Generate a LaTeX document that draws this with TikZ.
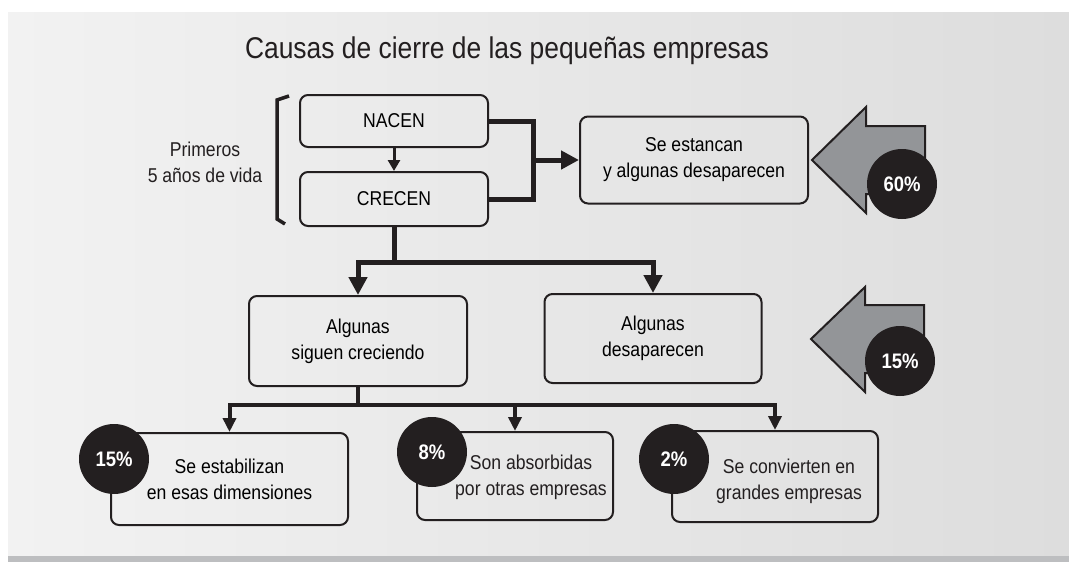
\documentclass[tikz,border=0pt]{standalone}
\usepackage{fontspec}
\setmainfont{Liberation Sans}[FakeStretch=0.88]
\usetikzlibrary{arrows.meta}

\definecolor{negro}{HTML}{231F20}
\definecolor{grisflecha}{HTML}{939598}
\definecolor{fondoA}{HTML}{F2F2F2}
\definecolor{fondoB}{HTML}{DDDDDD}
\definecolor{barra}{HTML}{BDBEC0}

\begin{document}
\begin{tikzpicture}[x=1pt, y=-1pt,
  caja/.style={draw=negro, line width=2pt, rounded corners=8pt, align=center,
               inner sep=0pt, font=\fontsize{20}{26}\selectfont},
  texto/.style={align=center, text=negro, font=\fontsize{20}{26}\selectfont},
  titulo/.style={text=negro, font=\fontsize{30}{36}\selectfont},
  pct/.style={circle, fill=negro, text=white, inner sep=0pt, minimum size=70pt,
              font=\fontsize{21}{21}\selectfont\bfseries},
  grueso/.style={draw=negro, line width=5pt},
  medio/.style={draw=negro, line width=4pt},
  flechaG/.style={-{Triangle[length=18pt,width=18pt]}},
  flechaM/.style={-{Triangle[length=14pt,width=13pt]}},
  gris/.style={fill=grisflecha, draw=negro, line width=2pt, line join=miter}]

\useasboundingbox (0,0) rectangle (1069,562);

%% ---- Fondo ----
\shade[left color=fondoA, right color=fondoB] (8,12) rectangle (1069,556);
\fill[barra] (8,556) rectangle (1069,562);

%% ---- Titulo ----
\node[titulo, anchor=base] (titulo) at (507,58) {Causas de cierre de las pequeñas empresas};

%% ---- Primeros 5 años ----
\node[texto] (primeros) at (205,162) {Primeros\\5 años de vida};
\draw[negro, line width=3.5pt] (289,96) -- (277,100) -- (277,219) -- (285,224);

%% ---- Nacen / crecen ----
\node[caja, minimum width=188pt, minimum height=52pt] (nacen) at (394,121) {NACEN};
\node[caja, minimum width=188pt, minimum height=54pt] (crecen) at (394,199) {CRECEN};
\node[caja, minimum width=228pt, minimum height=87pt] (estancan) at (694,160)
    {Se estancan\\y algunas desaparecen};
\draw[negro, line width=3pt, -{Triangle[length=11pt,width=12pt]}]
    (nacen.south) -- (crecen.north);
\coordinate (jA) at (533,160);
\draw[grueso] (nacen.east) -| (jA) |- (crecen.east);
\draw[grueso, flechaG] (jA) -- (estancan.west);

%% ---- Segundo nivel ----
\node[caja, minimum width=218pt, minimum height=90pt] (siguen) at (358,341)
    {Algunas\\siguen creciendo};
\node[caja, minimum width=217pt, minimum height=89pt] (desaparecen) at (653,338.5)
    {Algunas\\desaparecen};
\coordinate (jB) at (394,262);
\draw[grueso] (crecen.south) -- (jB);
\draw[grueso, flechaG] (jB) -| (siguen.north);
\draw[grueso, flechaG] (jB) -| (desaparecen.north);

%% ---- Flechas grises ----
\draw[gris] (812,160) -- (866,107) -- (866,126) -- (925,126) -- (925,194)
    -- (866,194) -- (866,213) -- cycle;
\draw[gris] (811,339) -- (865,287) -- (865,305) -- (924,305) -- (924,373)
    -- (865,373) -- (865,392) -- cycle;
\node[pct] (p60) at (902,184) {60\%};
\node[pct] (p15a) at (900,361) {15\%};

%% ---- Tercer nivel ----
\node[caja, minimum width=237pt, minimum height=92pt] (estabilizan) at (229.5,479)
    {Se estabilizan\\en esas dimensiones};
\node[caja, minimum width=196pt, minimum height=88pt] (absorbidas) at (515,476) {};
\node[texto] (absorbidasT) at (531,477) {Son absorbidas\\por otras empresas};
\node[caja, minimum width=206pt, minimum height=91pt] (grandes) at (775,476.5) {};
\node[texto] (grandesT) at (789,481) {Se convierten en\\grandes empresas};
\coordinate (jC) at (358,405);
\draw[medio] (siguen.south) -- (jC);
\draw[medio, flechaM] (jC) -| (estabilizan.north);
\draw[medio, flechaM] (jC) -| (absorbidas.north);
\draw[medio, flechaM] (jC) -| (grandes.north);
\node[pct] (p15b) at (114,459) {15\%};
\node[pct] (p8) at (432,452) {8\%};
\node[pct] (p2) at (674,459) {2\%};

\end{tikzpicture}
\end{document}
